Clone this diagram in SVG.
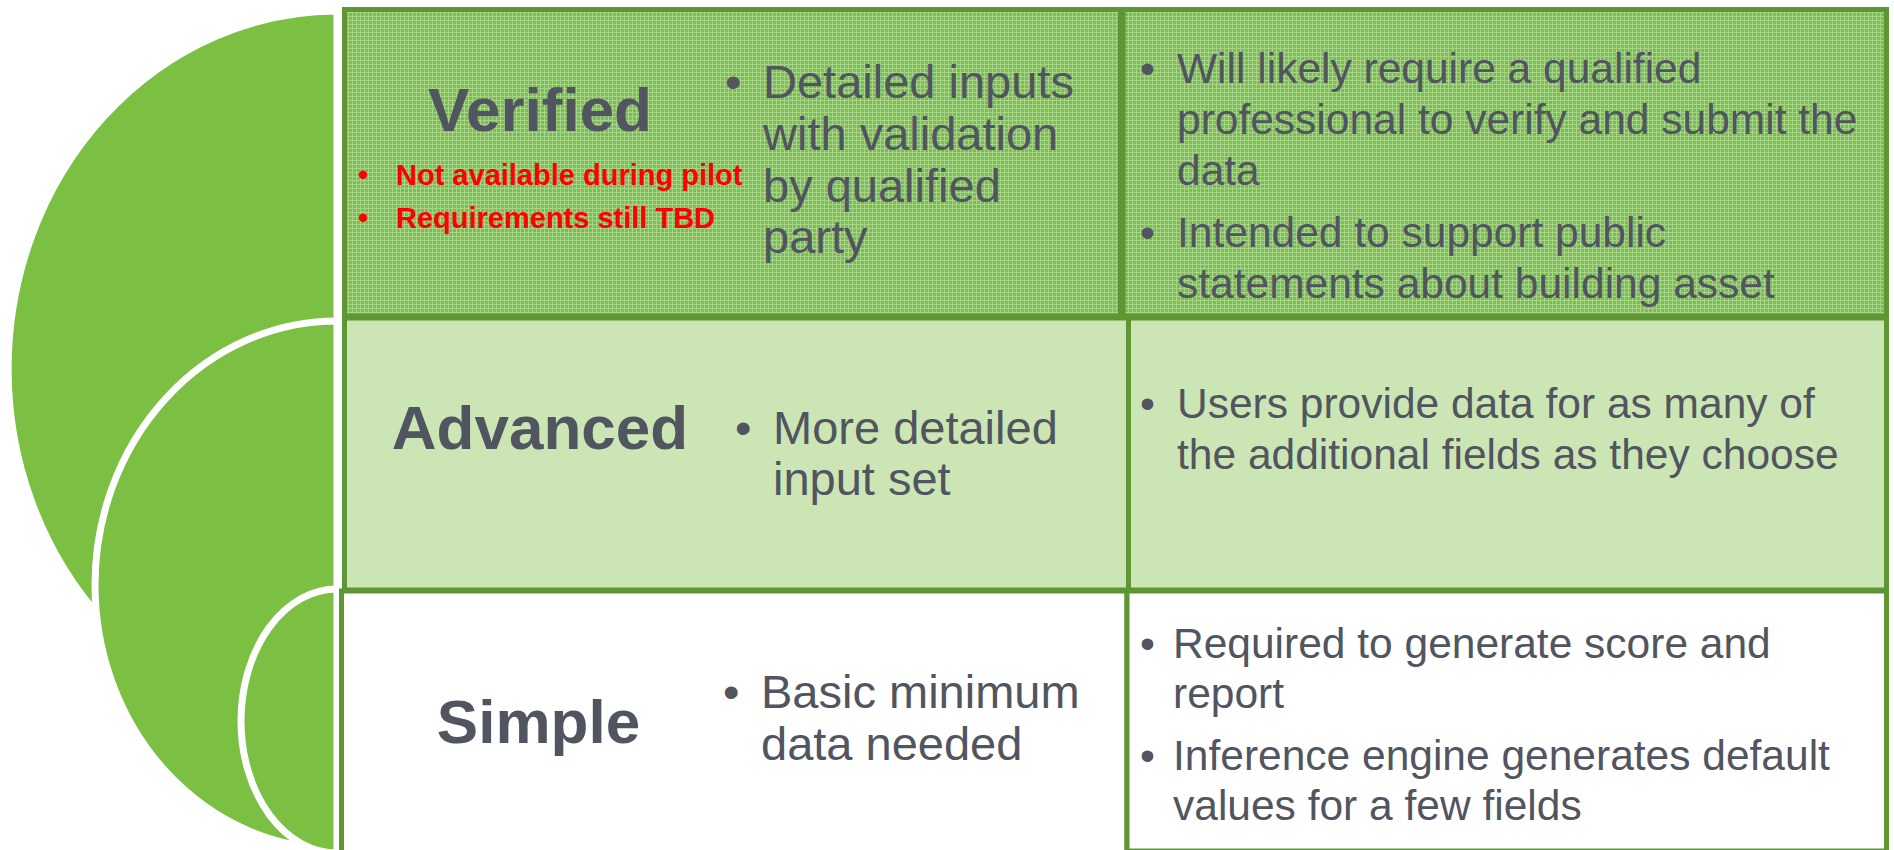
<svg xmlns="http://www.w3.org/2000/svg" width="1894" height="850" viewBox="0 0 1894 850">
<style>
text{font-family:"Liberation Sans",Arial,sans-serif;fill:#50555F}
.h{font-weight:bold;font-size:62px;text-anchor:middle}
.l{font-size:47px}
.r{font-size:42.5px}
.red{font-weight:bold;font-size:29px;fill:#FF0000}
.arc{fill:#7CC043;stroke:#FFFFFF;stroke-width:7}
.cell{stroke:#5E9634;stroke-width:5}
</style>
<defs>
<pattern id="tex" width="4" height="4" patternUnits="userSpaceOnUse">
<rect width="4" height="4" fill="#7BBE4B"/>
<rect width="4" height="1" fill="#A6D589"/>
<rect width="1" height="4" fill="#A6D589"/>
</pattern>
</defs>
<rect width="1894" height="850" fill="#FFFFFF"/>
<g id="arc-outer"><path class="arc" d="M337,11 A329,358 0 0 0 337,727 Z"/></g>
<g id="arc-middle"><path class="arc" d="M337,321 A242,264 0 0 0 337,849 Z"/></g>
<g id="arc-inner"><path class="arc" d="M337,589 A96,132 0 0 0 337,853 Z"/></g>
<g id="connectors"/>
<g id="verified-left">
<rect class="cell" x="344.5" y="9.5" width="776" height="306.5" fill="url(#tex)"/>
<text class="h" x="540" y="131">Verified</text>
<text class="red" x="358" y="185">•</text><text class="red" x="396" y="185">Not available during pilot</text>
<text class="red" x="358" y="228">•</text><text class="red" x="396" y="228">Requirements still TBD</text>
<text class="l" x="725" y="98">•</text>
<text class="l" x="763" y="98">Detailed inputs</text>
<text class="l" x="763" y="150">with validation</text>
<text class="l" x="763" y="202">by qualified</text>
<text class="l" x="763" y="253">party</text>
</g>
<g id="verified-right">
<rect class="cell" x="1123" y="9.5" width="763.5" height="306.5" fill="url(#tex)"/>
<text class="r" x="1140" y="83">•</text>
<text class="r" x="1177" y="83">Will likely require a qualified</text>
<text class="r" x="1177" y="134">professional to verify and submit the</text>
<text class="r" x="1177" y="185">data</text>
<text class="r" x="1140" y="247">•</text>
<text class="r" x="1177" y="247">Intended to support public</text>
<text class="r" x="1177" y="298">statements about building asset</text>
</g>
<g id="advanced-left">
<rect class="cell" x="344.5" y="318" width="784" height="272" fill="#CCE5B4"/>
<text class="h" x="540" y="449">Advanced</text>
<text class="l" x="735" y="444">•</text>
<text class="l" x="773" y="444">More detailed</text>
<text class="l" x="773" y="495">input set</text>
</g>
<g id="advanced-right">
<rect class="cell" x="1128.5" y="318" width="758" height="272" fill="#CCE5B4"/>
<text class="r" x="1140" y="418">•</text>
<text class="r" x="1177" y="418">Users provide data for as many of</text>
<text class="r" x="1177" y="469">the additional fields as they choose</text>
</g>
<g id="simple-left">
<rect class="cell" x="341.5" y="591" width="785.5" height="270" fill="#FFFFFF"/>
<text class="h" x="538.5" y="743">Simple</text>
<text class="l" x="723" y="708">•</text>
<text class="l" x="761" y="708">Basic minimum</text>
<text class="l" x="761" y="760">data needed</text>
</g>
<g id="simple-right">
<rect class="cell" x="1127" y="591" width="759.5" height="260" fill="#FFFFFF"/>
<text class="r" x="1140" y="658">•</text>
<text class="r" x="1173" y="658">Required to generate score and</text>
<text class="r" x="1173" y="708">report</text>
<text class="r" x="1140" y="770">•</text>
<text class="r" x="1173" y="770">Inference engine generates default</text>
<text class="r" x="1173" y="820">values for a few fields</text>
</g>
</svg>
